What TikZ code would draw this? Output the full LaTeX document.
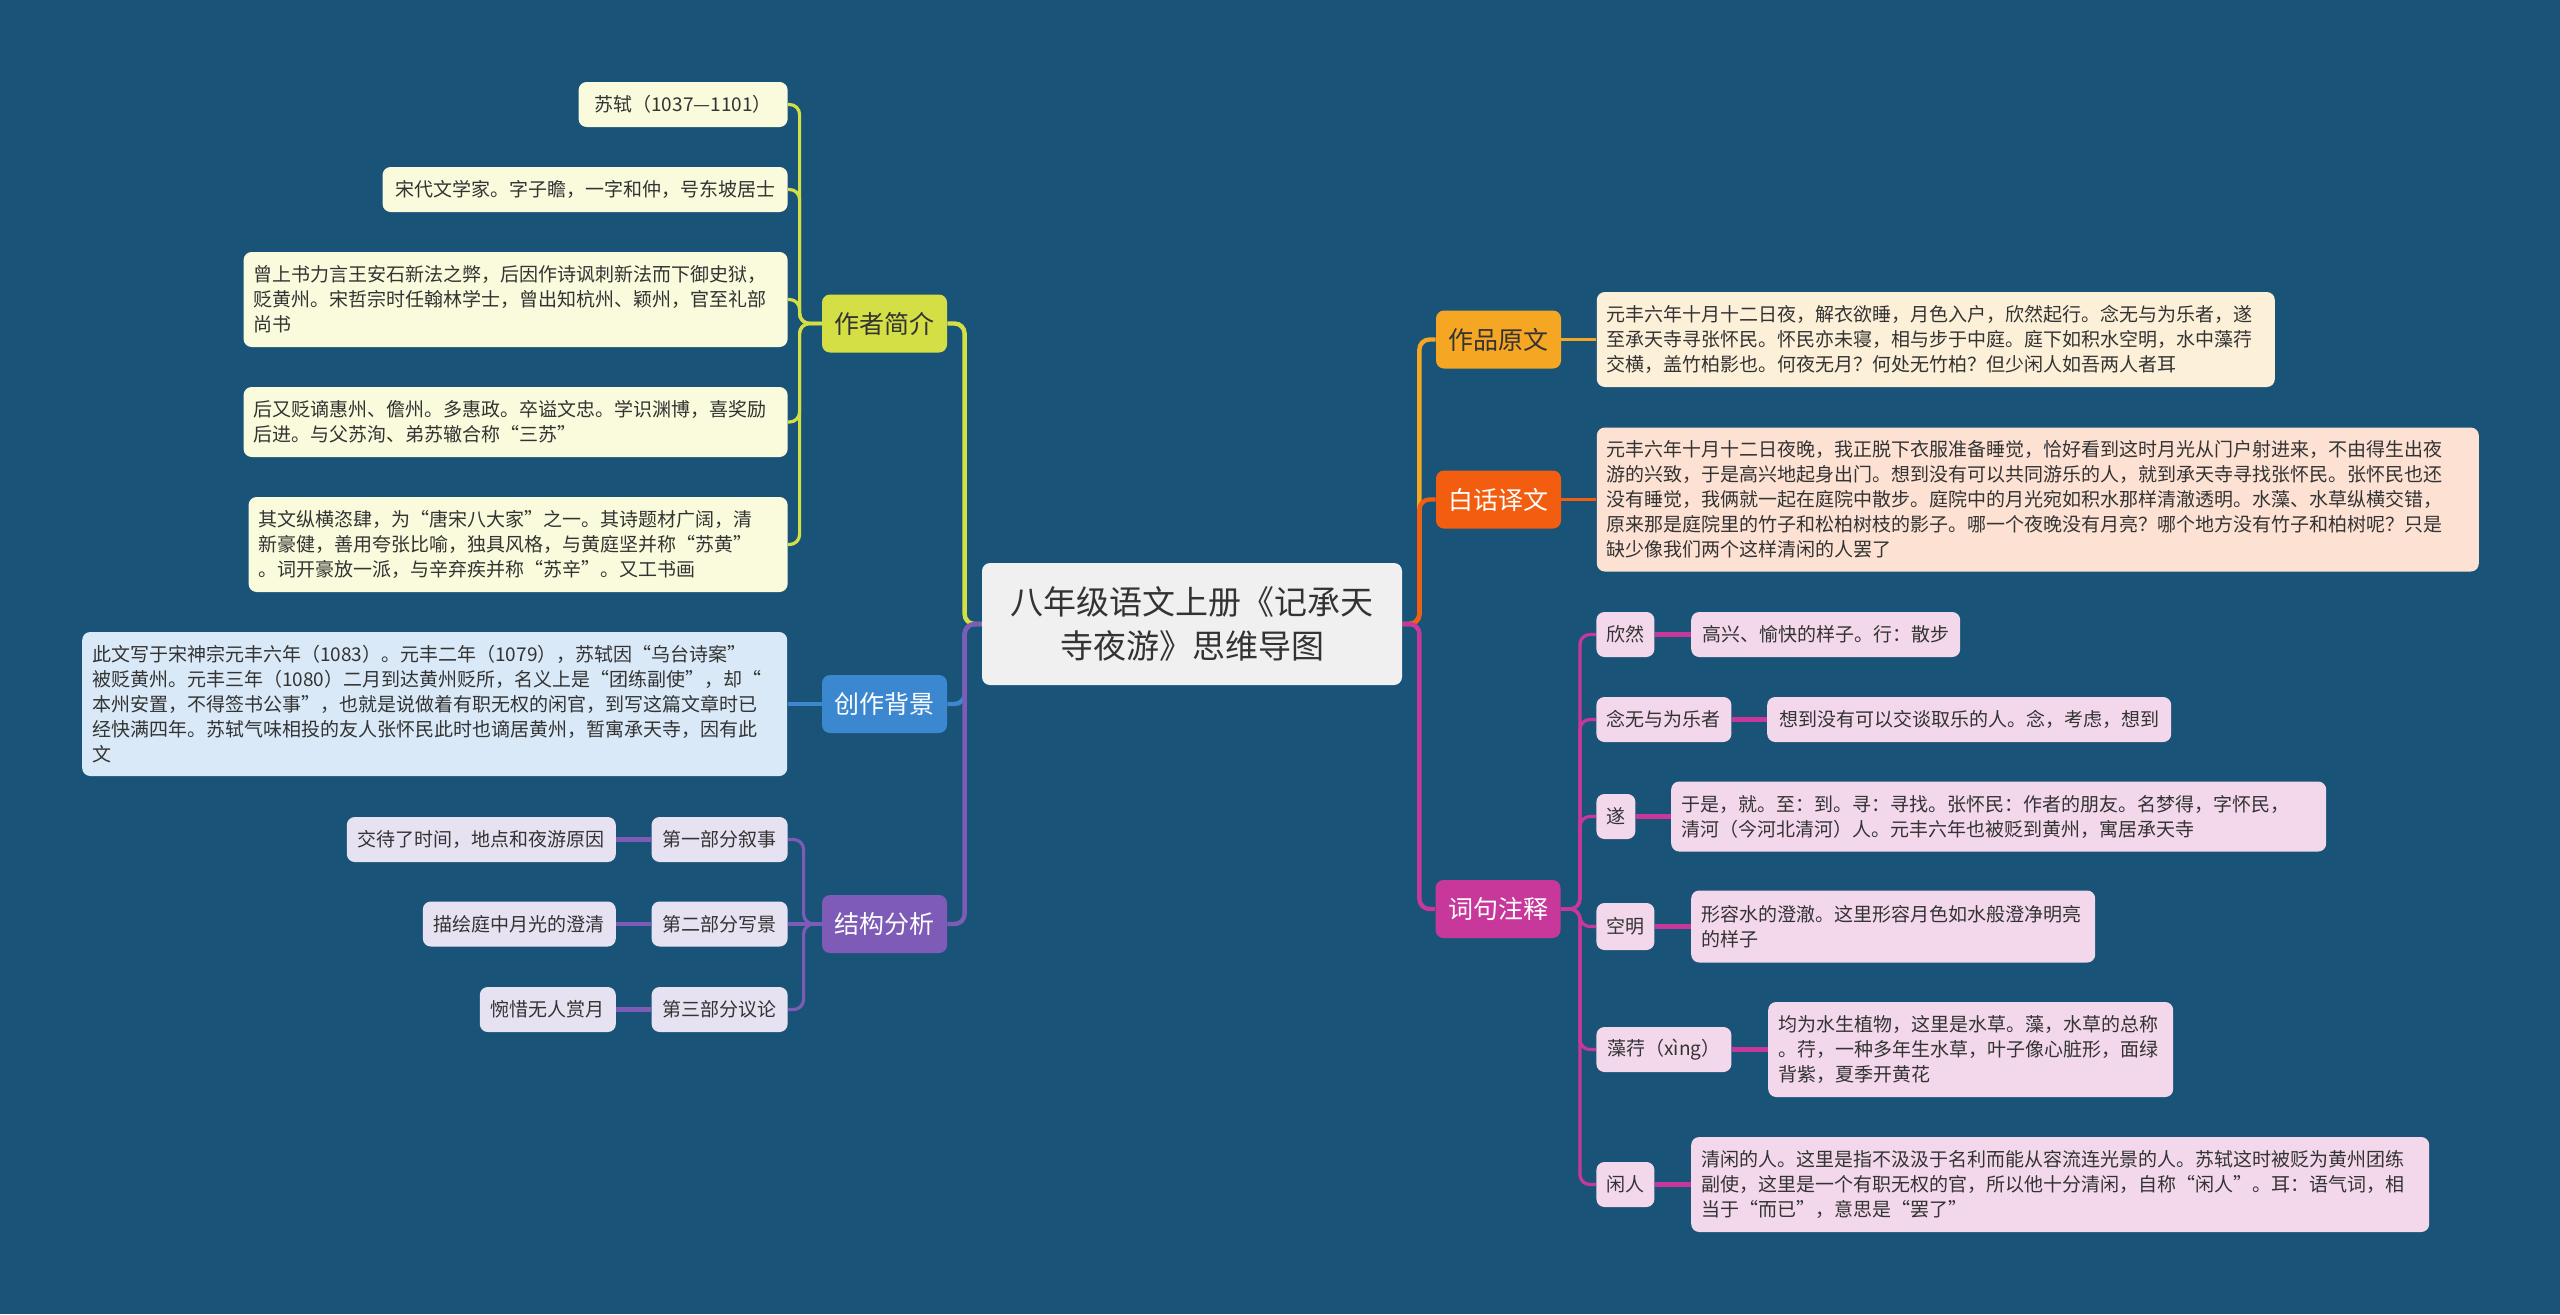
\documentclass[tikz,border=0pt]{standalone}
\usepackage{fontspec}
\setmainfont{Noto Sans CJK SC}
\usepackage{tikz}
\usepackage{xcolor}
\usetikzlibrary{positioning}

\definecolor{bgblue}{HTML}{1A5378}
\definecolor{rootgray}{HTML}{F0F0F0}
\definecolor{inkgray}{HTML}{333333}
\definecolor{authorgreen}{HTML}{D4DF45}
\definecolor{authorleaf}{HTML}{FAFADC}
\definecolor{backblue}{HTML}{3B88D0}
\definecolor{backleaf}{HTML}{DAE9F7}
\definecolor{structpurple}{HTML}{7E5BB6}
\definecolor{structleaf}{HTML}{E7E2F2}
\definecolor{origorange}{HTML}{F5A623}
\definecolor{origleaf}{HTML}{FDF0D8}
\definecolor{transred}{HTML}{F25D10}
\definecolor{transleaf}{HTML}{FDE2D4}
\definecolor{notepink}{HTML}{C8389A}
\definecolor{noteleaf}{HTML}{F3D8EC}

\begin{document}
\begin{tikzpicture}[x=0.5pt, y=-0.5pt,
  root/.style={fill=rootgray, rounded corners=4pt, text=inkgray, align=center,
    font=\fontsize{16.5pt}{22pt}\selectfont, minimum width=210pt, minimum height=61pt, inner sep=0pt},
  topic/.style={rounded corners=4pt, font=\fontsize{12.5pt}{15pt}\selectfont,
    minimum width=62.5pt, minimum height=29pt, inner sep=0pt},
  leaf/.style={rounded corners=4pt, text=inkgray, align=left, font=\fontsize{9.5pt}{12.5pt}\selectfont,
    inner xsep=5pt, inner ysep=0pt, minimum height=22.5pt},
  trunk/.style={line width=2.2pt, rounded corners=5pt},
  link/.style={line width=1.6pt, rounded corners=5pt},
  pair/.style={line width=2.4pt}]

  % Background
  \fill[bgblue] (0,0) rectangle (2560,1314);
  \useasboundingbox (0,0) rectangle (2560,1314);

  % Root
  \node[root] (root) at (1192,624) {八年级语文上册《记承天\\寺夜游》思维导图};

  % Topics
  \node[topic, fill=authorgreen, text=inkgray] (author) at (884.5,323.5) {作者简介};
  \node[topic, fill=backblue, text=white] (backgr) at (884.5,704) {创作背景};
  \node[topic, fill=structpurple, text=white] (struct) at (884.5,924) {结构分析};
  \node[topic, fill=origorange, text=inkgray] (orig) at (1498.5,339.5) {作品原文};
  \node[topic, fill=transred, text=white] (trans) at (1498.5,499.5) {白话译文};
  \node[topic, fill=notepink, text=white] (notes) at (1498,909) {词句注释};

  % Root to topics
  \draw[trunk, draw=backblue] (root.west) -- ++(-17,0) |- (backgr.east);
  \draw[trunk, draw=authorgreen] (root.west) -- ++(-17,0) |- (author.east);
  \draw[trunk, draw=structpurple] (root.west) -- ++(-17,0) |- (struct.east);
  \draw[trunk, draw=origorange] (root.east) -- ++(17,0) |- (orig.west);
  \draw[trunk, draw=transred] (root.east) -- ++(17,0) |- (trans.west);
  \draw[trunk, draw=notepink] (root.east) -- ++(17,0) |- (notes.west);

  % Author
  \node[leaf, fill=authorleaf, anchor=east, minimum width=104.5pt] (au1) at (788,104.5) {苏轼（1037—1101）};
  \node[leaf, fill=authorleaf, anchor=east, minimum width=202.5pt] (au2) at (788,189.5) {宋代文学家。字子瞻，一字和仲，号东坡居士};
  \node[leaf, fill=authorleaf, anchor=east, text width=262pt, minimum height=47.5pt] (au3) at (788,299.5)
    {曾上书力言王安石新法之弊，后因作诗讽刺新法而下御史狱，\\贬黄州。宋哲宗时任翰林学士，曾出知杭州、颖州，官至礼部\\尚书};
  \node[leaf, fill=authorleaf, anchor=east, text width=262pt, minimum height=35pt] (au4) at (788,422)
    {后又贬谪惠州、儋州。多惠政。卒谥文忠。学识渊博，喜奖励\\后进。与父苏洵、弟苏辙合称“三苏”};
  \node[leaf, fill=authorleaf, anchor=east, text width=259.5pt, minimum height=47.5pt] (au5) at (788,544.5)
    {其文纵横恣肆，为“唐宋八大家”之一。其诗题材广阔，清\\新豪健，善用夸张比喻，独具风格，与黄庭坚并称“苏黄”\\。词开豪放一派，与辛弃疾并称“苏辛”。又工书画};
  \draw[link, draw=authorgreen] (author.west) -- ++(-22,0) |- (au1.east);
  \draw[link, draw=authorgreen] (author.west) -- ++(-22,0) |- (au2.east);
  \draw[link, draw=authorgreen] (author.west) -- ++(-22,0) |- (au3.east);
  \draw[link, draw=authorgreen] (author.west) -- ++(-22,0) |- (au4.east);
  \draw[link, draw=authorgreen] (author.west) -- ++(-22,0) |- (au5.east);

  % Background of the text
  \node[leaf, fill=backleaf, text width=342.5pt, minimum height=72pt, left=17pt of backgr] (bg1)
    {此文写于宋神宗元丰六年（1083）。元丰二年（1079），苏轼因“乌台诗案”\\被贬黄州。元丰三年（1080）二月到达黄州贬所，名义上是“团练副使”，却“\\本州安置，不得签书公事”，也就是说做着有职无权的闲官，到写这篇文章时已\\经快满四年。苏轼气味相投的友人张怀民此时也谪居黄州，暂寓承天寺，因有此\\文};
  \draw[link, draw=backblue] (backgr.west) -- (bg1.east);

  % Structure
  \node[leaf, fill=structleaf, anchor=east, minimum width=68pt] (st1) at (788,839.5) {第一部分叙事};
  \node[leaf, fill=structleaf, anchor=east, minimum width=68pt] (st2) at (788,924) {第二部分写景};
  \node[leaf, fill=structleaf, anchor=east, minimum width=68pt] (st3) at (788,1009.5) {第三部分议论};
  \node[leaf, fill=structleaf, minimum width=134.5pt, left=17.5pt of st1] (st1d) {交待了时间，地点和夜游原因};
  \node[leaf, fill=structleaf, minimum width=96.5pt, left=17.5pt of st2] (st2d) {描绘庭中月光的澄清};
  \node[leaf, fill=structleaf, minimum width=68pt, left=17.5pt of st3] (st3d) {惋惜无人赏月};
  \draw[link, draw=structpurple] (struct.west) -- ++(-18,0) |- (st1.east);
  \draw[link, draw=structpurple] (struct.west) -- (st2.east);
  \draw[link, draw=structpurple] (struct.west) -- ++(-18,0) |- (st3.east);
  \draw[pair, draw=structpurple] (st1.west) -- (st1d.east);
  \draw[pair, draw=structpurple] (st2.west) -- (st2d.east);
  \draw[pair, draw=structpurple] (st3.west) -- (st3d.east);

  % Original text
  \node[leaf, fill=origleaf, text width=329pt, minimum height=47.5pt, right=17.5pt of orig] (origtxt)
    {元丰六年十月十二日夜，解衣欲睡，月色入户，欣然起行。念无与为乐者，遂\\至承天寺寻张怀民。怀民亦未寝，相与步于中庭。庭下如积水空明，水中藻荇\\交横，盖竹柏影也。何夜无月？何处无竹柏？但少闲人如吾两人者耳};
  \draw[link, draw=origorange] (orig.east) -- (origtxt.west);

  % Translation
  \node[leaf, fill=transleaf, text width=431pt, minimum height=72pt, right=17.5pt of trans] (transtxt)
    {元丰六年十月十二日夜晚，我正脱下衣服准备睡觉，恰好看到这时月光从门户射进来，不由得生出夜\\游的兴致，于是高兴地起身出门。想到没有可以共同游乐的人，就到承天寺寻找张怀民。张怀民也还\\没有睡觉，我俩就一起在庭院中散步。庭院中的月光宛如积水那样清澈透明。水藻、水草纵横交错，\\原来那是庭院里的竹子和松柏树枝的影子。哪一个夜晚没有月亮？哪个地方没有竹子和柏树呢？只是\\缺少像我们两个这样清闲的人罢了};
  \draw[link, draw=transred] (trans.east) -- (transtxt.west);

  % Notes: terms
  \node[leaf, fill=noteleaf, anchor=west, minimum width=29pt] (nt1) at (1596,634.5) {欣然};
  \node[leaf, fill=noteleaf, anchor=west, minimum width=67.5pt] (nt2) at (1596,719.5) {念无与为乐者};
  \node[leaf, fill=noteleaf, anchor=west, minimum width=19.5pt] (nt3) at (1596,816.5) {遂};
  \node[leaf, fill=noteleaf, anchor=west, minimum width=29pt, minimum height=23.5pt] (nt4) at (1596,926.5) {空明};
  \node[leaf, fill=noteleaf, anchor=west, minimum width=67.5pt] (nt5) at (1596,1049.5) {藻荇（xìng）};
  \node[leaf, fill=noteleaf, anchor=west, minimum width=29pt] (nt6) at (1596,1184.5) {闲人};

  % Notes: meanings
  \node[leaf, fill=noteleaf, minimum width=134.5pt, right=18pt of nt1] (nt1d) {高兴、愉快的样子。行：散步};
  \node[leaf, fill=noteleaf, minimum width=202pt, right=17.5pt of nt2] (nt2d) {想到没有可以交谈取乐的人。念，考虑，想到};
  \node[leaf, fill=noteleaf, text width=317.5pt, minimum height=35pt, right=17.5pt of nt3] (nt3d)
    {于是，就。至：到。寻：寻找。张怀民：作者的朋友。名梦得，字怀民，\\清河（今河北清河）人。元丰六年也被贬到黄州，寓居承天寺};
  \node[leaf, fill=noteleaf, text width=192pt, minimum height=36pt, right=18pt of nt4] (nt4d)
    {形容水的澄澈。这里形容月色如水般澄净明亮\\的样子};
  \node[leaf, fill=noteleaf, text width=192.5pt, minimum height=47.5pt, right=18pt of nt5] (nt5d)
    {均为水生植物，这里是水草。藻，水草的总称\\。荇，一种多年生水草，叶子像心脏形，面绿\\背紫，夏季开黄花};
  \node[leaf, fill=noteleaf, text width=359pt, minimum height=47.5pt, right=18pt of nt6] (nt6d)
    {清闲的人。这里是指不汲汲于名利而能从容流连光景的人。苏轼这时被贬为黄州团练\\副使，这里是一个有职无权的官，所以他十分清闲，自称“闲人”。耳：语气词，相\\当于“而已”，意思是“罢了”};

  % Notes: connectors
  \draw[link, draw=notepink] (notes.east) -- ++(19,0) |- (nt1.west);
  \draw[link, draw=notepink] (notes.east) -- ++(19,0) |- (nt2.west);
  \draw[link, draw=notepink] (notes.east) -- ++(19,0) |- (nt3.west);
  \draw[link, draw=notepink] (notes.east) -- ++(19,0) |- (nt4.west);
  \draw[link, draw=notepink] (notes.east) -- ++(19,0) |- (nt5.west);
  \draw[link, draw=notepink] (notes.east) -- ++(19,0) |- (nt6.west);
  \draw[pair, draw=notepink] (nt1.east) -- (nt1d.west);
  \draw[pair, draw=notepink] (nt2.east) -- (nt2d.west);
  \draw[pair, draw=notepink] (nt3.east) -- (nt3d.west);
  \draw[pair, draw=notepink] (nt4.east) -- (nt4d.west);
  \draw[pair, draw=notepink] (nt5.east) -- (nt5d.west);
  \draw[pair, draw=notepink] (nt6.east) -- (nt6d.west);
\end{tikzpicture}
\end{document}
